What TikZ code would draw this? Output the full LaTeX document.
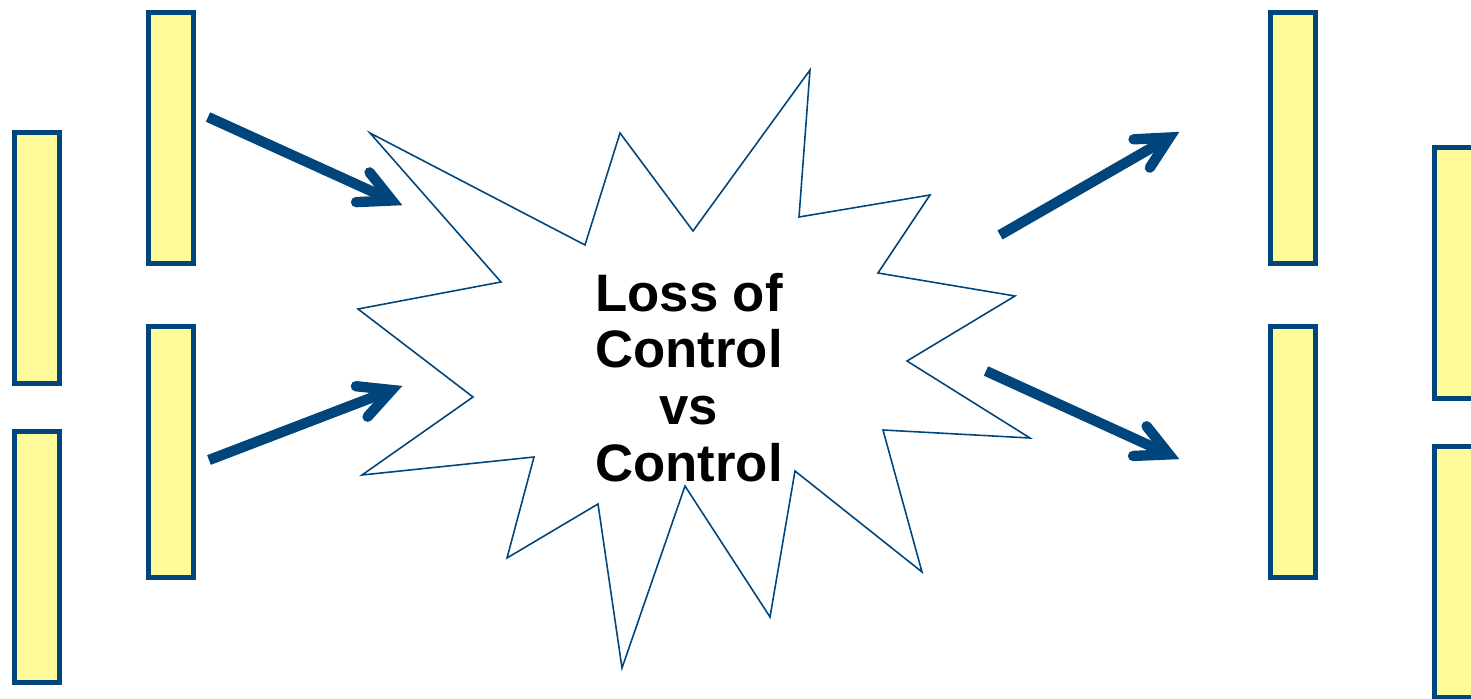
\documentclass[tikz,border=0pt]{standalone}
\usepackage{fontspec}
\setmainfont{Liberation Sans}
\usetikzlibrary{calc}
\definecolor{navy}{RGB}{0,70,125}
\definecolor{paleyellow}{RGB}{255,251,153}
\begin{document}
\begin{tikzpicture}[x=0.02cm,y=-0.02cm,
  bar/.style={draw=navy, fill=paleyellow, line width=2.85pt, rectangle, inner sep=0pt, minimum width=0.9cm, minimum height=5.04cm},
  shaft/.style={draw=navy, line width=5.9pt, shorten >=0.06cm},
  barb/.style={draw=navy, line width=5.9pt, line cap=round, line join=miter},
  burst/.style={draw=navy, fill=white, line width=0.9pt, line join=miter},
  title/.style={font=\bfseries\fontsize{30}{32.3}\selectfont, align=center, inner sep=0pt}]
\useasboundingbox (0,0) rectangle (1471,699);

% bars
\node[bar] (A) at (37,258) {};
\node[bar] (B) at (37,557) {};
\node[bar] (C) at (171,138) {};
\node[bar] (D) at (171,452) {};
\node[bar] (E) at (1292.5,138) {};
\node[bar] (F) at (1292.5,452) {};
\node[bar] (G) at (1457,273) {};
\node[bar] (H) at (1457,572) {};

% burst
\draw[burst] (370,133) -- (585,245) -- (620,133) -- (693,231) -- (810,70) -- (799,217)
  -- (930,195) -- (878,273) -- (1015,296) -- (907,361) -- (1030,438) -- (883,430)
  -- (922,572) -- (795,471) -- (770,617) -- (685,486) -- (622,668) -- (598,504)
  -- (507,558) -- (534,457) -- (362,475) -- (473,397) -- (358,309) -- (501,282) -- cycle;

\node[title] (T) at (689,377.5) {Loss of\\Control\\vs\\Control};

% arrows
\coordinate (a1s) at (208,117);  \coordinate (a1v) at (392,200.5);
\coordinate (a2s) at (209,460);  \coordinate (a2v) at (391.7,390);
\coordinate (a3s) at (1000,235); \coordinate (a3v) at (1169.5,137.5);
\coordinate (a4s) at (986,371);  \coordinate (a4v) at (1169,454.4);

\foreach \i in {1,2,3,4}{
  \draw[shaft] (a\i s) -- (a\i v);
  \draw[barb] ($(a\i v)!0.72cm!27:(a\i s)$) -- (a\i v) -- ($(a\i v)!0.72cm!-27:(a\i s)$);
}
\end{tikzpicture}
\end{document}
